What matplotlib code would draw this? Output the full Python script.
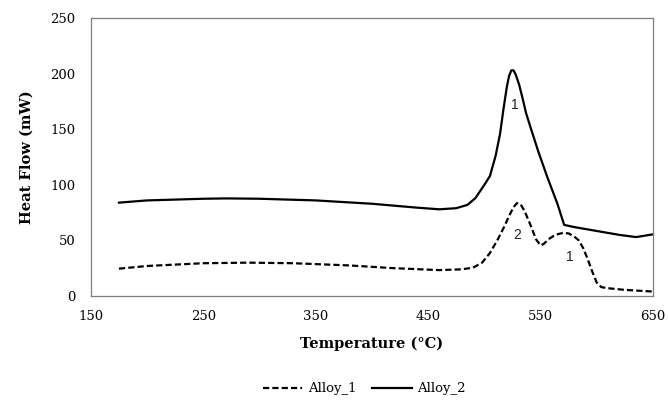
import matplotlib
matplotlib.use("Agg")
import matplotlib.pyplot as plt

# DSC curves
temp_1 = [175, 200, 250, 290, 330, 380, 420, 460, 480, 490, 498, 505, 512, 518, 522, 526,
          529, 532, 536, 541, 546, 550, 553, 557, 563, 570, 575, 580, 584, 588, 592, 596,
          600, 604, 610, 625, 650]
flow_1 = [24.6, 27, 29.5, 30, 29.5, 27.5, 25, 23.3, 24, 25.5, 30, 38.7, 51, 63, 72, 80,
          83.5, 83, 76, 64, 51, 45.5, 47, 51, 55, 56.8, 56.3, 53.5, 50, 43, 33, 22,
          12, 8, 7, 5.5, 4]

temp_2 = [175, 200, 250, 271, 300, 350, 400, 440, 460, 475, 485, 492, 500, 505, 510, 514,
          517, 520, 522, 524, 526, 528, 531, 534, 537, 541, 548, 556, 565, 571, 580, 600,
          620, 635, 650]
flow_2 = [84, 86, 87.5, 87.8, 87.5, 86, 83, 79.5, 78, 79, 82, 88, 100, 108, 126, 146,
          168, 188, 198, 203, 203, 199, 190, 178, 165, 152, 130, 107, 83, 64, 62, 58.5,
          55, 53, 55.5]

peak_labels = ["1", "2", "1"]
peak_pos = [(527, 172), (529, 55), (576, 35)]

x_ticks = [150, 250, 350, 450, 550, 650]
y_ticks = [0, 50, 100, 150, 200, 250]

serif = "DejaVu Serif"

fig = plt.figure(figsize=(6.68, 4.03), dpi=100)
ax = fig.add_axes([0.136, 0.2655, 0.8415, 0.6895])

ax.plot(temp_1, flow_1, color="black", lw=1.6, linestyle=(0, (2.8, 1.4)), label="Alloy_1")
ax.plot(temp_2, flow_2, color="black", lw=1.6, label="Alloy_2")

for txt, (x, y) in zip(peak_labels, peak_pos):
    ax.text(x, y, txt, ha="center", va="center", fontsize=10, family="Liberation Sans",
            color="#222222")

ax.set_xlim(150, 650)
ax.set_ylim(0, 250)
ax.set_xticks(x_ticks)
ax.set_yticks(y_ticks)
ax.tick_params(length=0, labelsize=9.5)
ax.tick_params(axis="x", pad=10)
ax.tick_params(axis="y", pad=11)
for lab in ax.get_xticklabels() + ax.get_yticklabels():
    lab.set_family(serif)
for s in ax.spines.values():
    s.set_color("#7f7f7f")
    s.set_linewidth(0.9)

ax.set_xlabel("Temperature (°C)", family=serif, fontweight="bold", fontsize=10.5, labelpad=10)
ax.set_ylabel("Heat Flow (mW)", family=serif, fontweight="bold", fontsize=10.5, labelpad=12)

fig.legend(loc="center", bbox_to_anchor=(0.545, 0.035), ncol=2, frameon=False,
           prop={"family": serif, "size": 9.5}, handlelength=3, columnspacing=1.2,
           handletextpad=0.4)

fig.savefig("out.png", dpi=100)
